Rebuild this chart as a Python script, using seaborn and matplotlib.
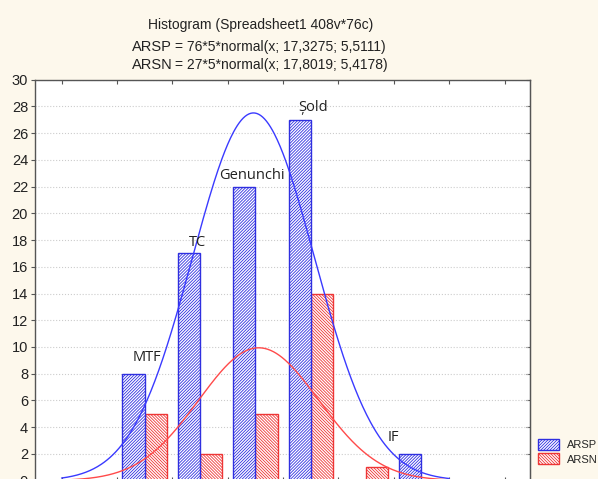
import numpy as np
import pandas as pd
import matplotlib
matplotlib.use("Agg")
import matplotlib.pyplot as plt
import seaborn as sns
from matplotlib.patches import Patch

# Histogram bins (width 5) and counts per group
bin_edges = [0, 5, 10, 15, 20, 25, 30, 35]
bin_centers = [2.5, 7.5, 12.5, 17.5, 22.5, 27.5, 32.5]
arsp_counts = [0, 8, 17, 22, 27, 0, 2]
arsn_counts = [0, 5, 2, 5, 14, 1, 0]

# Normal fits from the chart header: (n, bin width, mean, sd)
arsp_fit = (76, 5, 17.3275, 5.5111)
arsn_fit = (27, 5, 17.8019, 5.4178)

# Annotations over the bars
ann_text = ["MTF", "TC", "Genunchi", "Șold", "IF"]
ann_x = [7.7, 12.3, 17.2, 22.7, 30.0]
ann_y = [9.2, 17.8, 22.8, 27.9, 3.2]

blue = "#2f2fe0"
red = "#ee3535"
bg = "#fdf8ec"
hatch_blue = "/" * 11
hatch_red = "\\" * 11

sns.set_style("white")
plt.rcParams["font.family"] = ["Liberation Sans", "DejaVu Sans"]
plt.rcParams["hatch.linewidth"] = 0.6

df = pd.DataFrame({
    "x": bin_centers * 2,
    "count": arsp_counts + arsn_counts,
    "series": ["ARSP"] * len(bin_centers) + ["ARSN"] * len(bin_centers),
})

fig = plt.figure(figsize=(5.98, 4.79), dpi=100, facecolor=bg)
ax = fig.add_axes([35 / 598, -0.0035, 495 / 598, 0.8373])
ax.set_facecolor("white")

sns.histplot(data=df, x="x", weights="count", hue="series", hue_order=["ARSP", "ARSN"],
             bins=bin_edges, multiple="dodge", shrink=0.8,
             palette={"ARSP": blue, "ARSN": red}, legend=False, ax=ax)

# white bars with coloured hatching
for p in ax.patches:
    fc = p.get_facecolor()
    is_red = fc[0] > fc[2]
    p.set_alpha(1)
    p.set_facecolor("white")
    p.set_edgecolor(red if is_red else blue)
    p.set_linewidth(1)
    p.set_hatch(hatch_red if is_red else hatch_blue)

# fitted normal curves
xs = np.linspace(0, 35, 400)
for (n, w, mu, sd), c in [(arsp_fit, "#3a3aff"), (arsn_fit, "#ff4a4a")]:
    ys = n * w * np.exp(-0.5 * ((xs - mu) / sd) ** 2) / (sd * np.sqrt(2 * np.pi))
    sns.lineplot(x=xs, y=ys, color=c, lw=1, ax=ax)

for t, x, y in zip(ann_text, ann_x, ann_y):
    ax.text(x, y, t, ha="center", va="center", fontsize=10.5,
            family=["Open Sans", "DejaVu Sans"], color="#222222")

ax.set_xlim(-2.4, 42.3)
ax.set_ylim(0, 30)
ax.set_xticks(range(0, 45, 5))
ax.set_yticks(range(0, 31, 2))
ax.set_xlabel("")
ax.set_ylabel("")
ax.yaxis.grid(True, color="#cccccc", ls=":", lw=0.8)
ax.set_axisbelow(True)
ax.tick_params(axis="x", direction="in", length=3, top=True, bottom=True,
               labelbottom=False, color="#555555")
ax.tick_params(axis="y", direction="out", length=3, left=True, labelsize=10.5,
               color="#555555", labelcolor="#222222", pad=2)
sec = ax.secondary_yaxis("right")
sec.set_yticks(range(0, 31, 2))
sec.tick_params(direction="in", length=3, labelright=False, color="#555555")
sec.spines["right"].set_color("#555555")
for s in ax.spines.values():
    s.set_color("#555555")
    s.set_linewidth(1)

# header
fig.text(261 / 598, 1 - 25 / 479, "Histogram (Spreadsheet1 408v*76c)",
         ha="center", va="center", fontsize=10, color="#222222")
fig.text(132 / 598, 1 - 47 / 479, "ARSP", ha="left", va="center", fontsize=10.5, color="#222222")
fig.text(175 / 598, 1 - 47 / 479, "= 76*5*normal(x; 17,3275; 5,5111)",
         ha="left", va="center", fontsize=10, color="#222222")
fig.text(132 / 598, 1 - 65 / 479, "ARSN", ha="left", va="center", fontsize=10.5, color="#222222")
fig.text(175 / 598, 1 - 65 / 479, "= 27*5*normal(x; 17,8019; 5,4178)",
         ha="left", va="center", fontsize=10, color="#222222")

handles = [Patch(facecolor="white", edgecolor=blue, hatch=hatch_blue, label="ARSP"),
           Patch(facecolor="white", edgecolor=red, hatch=hatch_red, label="ARSN")]
fig.legend(handles=handles, loc="upper left", bbox_to_anchor=(538 / 598, 1 - 439 / 479),
           frameon=False, fontsize=8, borderpad=0, borderaxespad=0,
           handlelength=1.9, handleheight=1.1, labelspacing=0.3, handletextpad=0.7)

fig.savefig("out.png", dpi=100, facecolor=bg)
